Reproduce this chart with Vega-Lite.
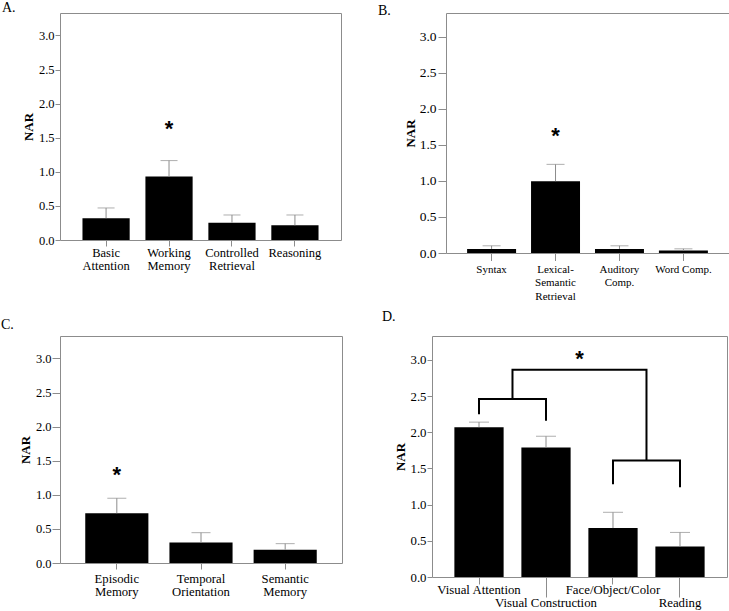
{
  "$schema": "https://vega.github.io/schema/vega-lite/v6.json",
  "padding": {"left": 0, "top": 0, "right": 0, "bottom": 0},
  "background": "white",
  "config": {
    "view": {"stroke": "#8c8c8c", "strokeWidth": 1},
    "axis": {"domain": false, "grid": false, "tickColor": "#8c8c8c", "labelColor": "black", "labelFont": "Liberation Serif", "titleFont": "Liberation Serif", "titleColor": "black", "labelOverlap": false, "labelFlush": false, "labelBound": false},
    "title": {"font": "Liberation Serif", "fontWeight": "normal", "fontSize": 14, "anchor": "start", "frame": "group", "baseline": "alphabetic", "color": "black"}
  },
  "spacing": 7,
  "vconcat": [
    {
      "spacing": 35,
      "hconcat": [
        {
          "width": 281, "height": 227,
          "title": {"text": "A.", "dx": -58, "offset": -2},
          "data": {"values": [
            {"c": "Basic Attention", "v": 0.32, "e": 0.47},
            {"c": "Working Memory", "v": 0.93, "e": 1.165},
            {"c": "Controlled Retrieval", "v": 0.254, "e": 0.367},
            {"c": "Reasoning", "v": 0.215, "e": 0.367}
          ]},
          "encoding": {"x": {"field": "c", "type": "nominal", "scale": {"domain": ["Basic Attention", "Working Memory", "Controlled Retrieval", "Reasoning"], "paddingInner": 0.25, "paddingOuter": 0.357},
            "axis": {"title": null, "labelAngle": 0, "labelExpr": "split(datum.value, ' ')", "labelFont": "Liberation Serif", "labelFontSize": 12.5, "labelLineHeight": 13.5, "tickSize": 6, "labelPadding": 0, "domain": false, "tickColor": "#8c8c8c", "labelColor": "black"}}},
          "layer": [
            {"mark": {"type": "bar", "color": "black"},
             "encoding": {"y": {"field": "v", "type": "quantitative", "scale": {"domain": [0, 3.33], "nice": false},
               "axis": {"title": "NAR", "values": [0, 0.5, 1, 1.5, 2, 2.5, 3], "format": ".1f", "labelFont": "Liberation Serif", "labelFontSize": 12.5, "labelColor": "black", "tickSize": 5, "tickColor": "#8c8c8c", "labelPadding": 1, "titleFont": "Liberation Serif", "titleFontSize": 13, "titleFontWeight": "bold", "titleColor": "black", "titlePadding": 3, "domain": false, "grid": false, "labelFlush": false}}}},
            {"mark": {"type": "rule", "color": "#8c8c8c", "strokeWidth": 1},
             "encoding": {"y": {"field": "v", "type": "quantitative", "scale": {"domain": [0, 3.33], "nice": false},
               "axis": {"title": "NAR", "values": [0, 0.5, 1, 1.5, 2, 2.5, 3], "format": ".1f", "labelFont": "Liberation Serif", "labelFontSize": 12.5, "labelColor": "black", "tickSize": 5, "tickColor": "#8c8c8c", "labelPadding": 1, "titleFont": "Liberation Serif", "titleFontSize": 13, "titleFontWeight": "bold", "titleColor": "black", "titlePadding": 3, "domain": false, "grid": false, "labelFlush": false}}, "y2": {"field": "e"}}},
            {"mark": {"type": "tick", "color": "#8c8c8c", "thickness": 1, "size": 17},
             "encoding": {"y": {"field": "e", "type": "quantitative", "scale": {"domain": [0, 3.33], "nice": false},
               "axis": {"title": "NAR", "values": [0, 0.5, 1, 1.5, 2, 2.5, 3], "format": ".1f", "labelFont": "Liberation Serif", "labelFontSize": 12.5, "labelColor": "black", "tickSize": 5, "tickColor": "#8c8c8c", "labelPadding": 1, "titleFont": "Liberation Serif", "titleFontSize": 13, "titleFontWeight": "bold", "titleColor": "black", "titlePadding": 3, "domain": false, "grid": false, "labelFlush": false}}}},
            {"data": {"values": [{"c": "Working Memory", "s": 1.69}]},
             "mark": {"type": "text", "text": "*", "font": "Liberation Sans", "fontWeight": "bold", "fontSize": 22, "baseline": "alphabetic", "dy": 11},
             "encoding": {"y": {"field": "s", "type": "quantitative", "scale": {"domain": [0, 3.33], "nice": false},
               "axis": {"title": "NAR", "values": [0, 0.5, 1, 1.5, 2, 2.5, 3], "format": ".1f", "labelFont": "Liberation Serif", "labelFontSize": 12.5, "labelColor": "black", "tickSize": 5, "tickColor": "#8c8c8c", "labelPadding": 1, "titleFont": "Liberation Serif", "titleFontSize": 13, "titleFontWeight": "bold", "titleColor": "black", "titlePadding": 3, "domain": false, "grid": false, "labelFlush": false}}}}
          ]
        },
        {
          "width": 283, "height": 240,
          "title": {"text": "B.", "dx": -68, "offset": -4.5},
          "data": {"values": [
            {"c": "Syntax", "v": 0.056, "e": 0.10},
            {"c": "Lexical-Semantic Retrieval", "v": 0.997, "e": 1.23},
            {"c": "Auditory Comp.", "v": 0.056, "e": 0.10},
            {"c": "Word Comp.", "v": 0.033, "e": 0.058}
          ]},
          "encoding": {"x": {"field": "c", "type": "nominal", "scale": {"domain": ["Syntax", "Lexical-Semantic Retrieval", "Auditory Comp.", "Word Comp."], "paddingInner": 0.234, "paddingOuter": 0.33},
            "axis": {"title": null, "labelAngle": 0, "labelExpr": "datum.value == 'Lexical-Semantic Retrieval' ? ['Lexical-', 'Semantic', 'Retrieval'] : datum.value == 'Auditory Comp.' ? ['Auditory', 'Comp.'] : datum.value", "labelFont": "Liberation Serif", "labelFontSize": 11, "labelLineHeight": 13.3, "tickSize": 7.5, "labelPadding": 3, "domain": false, "tickColor": "#8c8c8c", "labelColor": "black"}}},
          "layer": [
            {"mark": {"type": "bar", "color": "black"},
             "encoding": {"y": {"field": "v", "type": "quantitative", "scale": {"domain": [0, 3.33], "nice": false},
               "axis": {"title": "NAR", "values": [0, 0.5, 1, 1.5, 2, 2.5, 3], "format": ".1f", "labelFont": "Liberation Serif", "labelFontSize": 13.5, "labelColor": "black", "tickSize": 8, "tickColor": "#8c8c8c", "labelPadding": 2, "titleFont": "Liberation Serif", "titleFontSize": 13, "titleFontWeight": "bold", "titleColor": "black", "titlePadding": 2, "domain": false, "grid": false, "labelFlush": false}}}},
            {"mark": {"type": "rule", "color": "#8c8c8c", "strokeWidth": 1},
             "encoding": {"y": {"field": "v", "type": "quantitative", "scale": {"domain": [0, 3.33], "nice": false},
               "axis": {"title": "NAR", "values": [0, 0.5, 1, 1.5, 2, 2.5, 3], "format": ".1f", "labelFont": "Liberation Serif", "labelFontSize": 13.5, "labelColor": "black", "tickSize": 8, "tickColor": "#8c8c8c", "labelPadding": 2, "titleFont": "Liberation Serif", "titleFontSize": 13, "titleFontWeight": "bold", "titleColor": "black", "titlePadding": 2, "domain": false, "grid": false, "labelFlush": false}}, "y2": {"field": "e"}}},
            {"mark": {"type": "tick", "color": "#8c8c8c", "thickness": 1, "size": 18},
             "encoding": {"y": {"field": "e", "type": "quantitative", "scale": {"domain": [0, 3.33], "nice": false},
               "axis": {"title": "NAR", "values": [0, 0.5, 1, 1.5, 2, 2.5, 3], "format": ".1f", "labelFont": "Liberation Serif", "labelFontSize": 13.5, "labelColor": "black", "tickSize": 8, "tickColor": "#8c8c8c", "labelPadding": 2, "titleFont": "Liberation Serif", "titleFontSize": 13, "titleFontWeight": "bold", "titleColor": "black", "titlePadding": 2, "domain": false, "grid": false, "labelFlush": false}}}},
            {"data": {"values": [{"c": "Lexical-Semantic Retrieval", "s": 1.68}]},
             "mark": {"type": "text", "text": "*", "font": "Liberation Sans", "fontWeight": "bold", "fontSize": 22, "baseline": "alphabetic", "dy": 11},
             "encoding": {"y": {"field": "s", "type": "quantitative", "scale": {"domain": [0, 3.33], "nice": false},
               "axis": {"title": "NAR", "values": [0, 0.5, 1, 1.5, 2, 2.5, 3], "format": ".1f", "labelFont": "Liberation Serif", "labelFontSize": 13.5, "labelColor": "black", "tickSize": 8, "tickColor": "#8c8c8c", "labelPadding": 2, "titleFont": "Liberation Serif", "titleFontSize": 13, "titleFontWeight": "bold", "titleColor": "black", "titlePadding": 2, "domain": false, "grid": false, "labelFlush": false}}}}
          ]
        }
      ]
    },
    {
      "spacing": 38,
      "hconcat": [
        {
          "width": 282, "height": 227,
          "title": {"text": "C.", "dx": -59, "offset": 4},
          "data": {"values": [
            {"c": "Episodic Memory", "v": 0.73, "e": 0.95},
            {"c": "Temporal Orientation", "v": 0.30, "e": 0.445},
            {"c": "Semantic Memory", "v": 0.195, "e": 0.284}
          ]},
          "encoding": {"x": {"field": "c", "type": "nominal", "scale": {"domain": ["Episodic Memory", "Temporal Orientation", "Semantic Memory"], "paddingInner": 0.25, "paddingOuter": 0.30},
            "axis": {"title": null, "labelAngle": 0, "labelExpr": "split(datum.value, ' ')", "labelFont": "Liberation Serif", "labelFontSize": 12.7, "labelLineHeight": 13, "tickSize": 6, "labelPadding": 3, "domain": false, "tickColor": "#8c8c8c", "labelColor": "black"}}},
          "layer": [
            {"mark": {"type": "bar", "color": "black"},
             "encoding": {"y": {"field": "v", "type": "quantitative", "scale": {"domain": [0, 3.33], "nice": false},
               "axis": {"title": "NAR", "values": [0, 0.5, 1, 1.5, 2, 2.5, 3], "format": ".1f", "labelFont": "Liberation Serif", "labelFontSize": 12.5, "labelColor": "black", "tickSize": 8, "tickColor": "#8c8c8c", "labelPadding": 1, "titleFont": "Liberation Serif", "titleFontSize": 13, "titleFontWeight": "bold", "titleColor": "black", "titlePadding": 3, "domain": false, "grid": false, "labelFlush": false}}}},
            {"mark": {"type": "rule", "color": "#8c8c8c", "strokeWidth": 1},
             "encoding": {"y": {"field": "v", "type": "quantitative", "scale": {"domain": [0, 3.33], "nice": false},
               "axis": {"title": "NAR", "values": [0, 0.5, 1, 1.5, 2, 2.5, 3], "format": ".1f", "labelFont": "Liberation Serif", "labelFontSize": 12.5, "labelColor": "black", "tickSize": 8, "tickColor": "#8c8c8c", "labelPadding": 1, "titleFont": "Liberation Serif", "titleFontSize": 13, "titleFontWeight": "bold", "titleColor": "black", "titlePadding": 3, "domain": false, "grid": false, "labelFlush": false}}, "y2": {"field": "e"}}},
            {"mark": {"type": "tick", "color": "#8c8c8c", "thickness": 1, "size": 19},
             "encoding": {"y": {"field": "e", "type": "quantitative", "scale": {"domain": [0, 3.33], "nice": false},
               "axis": {"title": "NAR", "values": [0, 0.5, 1, 1.5, 2, 2.5, 3], "format": ".1f", "labelFont": "Liberation Serif", "labelFontSize": 12.5, "labelColor": "black", "tickSize": 8, "tickColor": "#8c8c8c", "labelPadding": 1, "titleFont": "Liberation Serif", "titleFontSize": 13, "titleFontWeight": "bold", "titleColor": "black", "titlePadding": 3, "domain": false, "grid": false, "labelFlush": false}}}},
            {"data": {"values": [{"c": "Episodic Memory", "s": 1.35}]},
             "mark": {"type": "text", "text": "*", "font": "Liberation Sans", "fontWeight": "bold", "fontSize": 22, "baseline": "alphabetic", "dy": 11},
             "encoding": {"y": {"field": "s", "type": "quantitative", "scale": {"domain": [0, 3.33], "nice": false},
               "axis": {"title": "NAR", "values": [0, 0.5, 1, 1.5, 2, 2.5, 3], "format": ".1f", "labelFont": "Liberation Serif", "labelFontSize": 12.5, "labelColor": "black", "tickSize": 8, "tickColor": "#8c8c8c", "labelPadding": 1, "titleFont": "Liberation Serif", "titleFontSize": 13, "titleFontWeight": "bold", "titleColor": "black", "titlePadding": 3, "domain": false, "grid": false, "labelFlush": false}}}}
          ]
        },
        {
          "width": 295, "height": 241,
          "title": {"text": "D.", "dx": -50, "offset": 12.5},
          "data": {"values": [
            {"c": "Visual Attention", "v": 2.07, "e": 2.14},
            {"c": "Visual Construction", "v": 1.79, "e": 1.945},
            {"c": "Face/Object/Color", "v": 0.676, "e": 0.894},
            {"c": "Reading", "v": 0.42, "e": 0.616}
          ]},
          "encoding": {"x": {"field": "c", "type": "nominal", "scale": {"domain": ["Visual Attention", "Visual Construction", "Face/Object/Color", "Reading"], "paddingInner": 0.265, "paddingOuter": 0.334},
            "axis": {"title": null, "labelAngle": 0, "labelFont": "Liberation Serif", "labelFontSize": 12.8, "tickSize": {"condition": {"test": "datum.value == 'Visual Construction' || datum.value == 'Reading'", "value": 20}, "value": 7}, "labelPadding": -1, "domain": false, "tickColor": "#8c8c8c", "labelColor": "black"}}},
          "layer": [
            {"mark": {"type": "bar", "color": "black"},
             "encoding": {"y": {"field": "v", "type": "quantitative", "scale": {"domain": [0, 3.33], "nice": false},
               "axis": {"title": "NAR", "values": [0, 0.5, 1, 1.5, 2, 2.5, 3], "format": ".1f", "labelFont": "Liberation Serif", "labelFontSize": 12.8, "labelColor": "black", "tickSize": 5, "tickColor": "#8c8c8c", "labelPadding": 1, "titleFont": "Liberation Serif", "titleFontSize": 13, "titleFontWeight": "bold", "titleColor": "black", "titlePadding": 3, "domain": false, "grid": false, "labelFlush": false}}}},
            {"mark": {"type": "rule", "color": "#8c8c8c", "strokeWidth": 1},
             "encoding": {"y": {"field": "v", "type": "quantitative", "scale": {"domain": [0, 3.33], "nice": false},
               "axis": {"title": "NAR", "values": [0, 0.5, 1, 1.5, 2, 2.5, 3], "format": ".1f", "labelFont": "Liberation Serif", "labelFontSize": 12.8, "labelColor": "black", "tickSize": 5, "tickColor": "#8c8c8c", "labelPadding": 1, "titleFont": "Liberation Serif", "titleFontSize": 13, "titleFontWeight": "bold", "titleColor": "black", "titlePadding": 3, "domain": false, "grid": false, "labelFlush": false}}, "y2": {"field": "e"}}},
            {"mark": {"type": "tick", "color": "#8c8c8c", "thickness": 1, "size": 20},
             "encoding": {"y": {"field": "e", "type": "quantitative", "scale": {"domain": [0, 3.33], "nice": false},
               "axis": {"title": "NAR", "values": [0, 0.5, 1, 1.5, 2, 2.5, 3], "format": ".1f", "labelFont": "Liberation Serif", "labelFontSize": 12.8, "labelColor": "black", "tickSize": 5, "tickColor": "#8c8c8c", "labelPadding": 1, "titleFont": "Liberation Serif", "titleFontSize": 13, "titleFontWeight": "bold", "titleColor": "black", "titlePadding": 3, "domain": false, "grid": false, "labelFlush": false}}}},
            {"data": {"values": [
              {"g": "a", "o": 0, "c": "Visual Attention", "y": 2.25},
              {"g": "a", "o": 1, "c": "Visual Attention", "y": 2.46},
              {"g": "a", "o": 2, "c": "Visual Construction", "y": 2.46},
              {"g": "a", "o": 3, "c": "Visual Construction", "y": 2.16},
              {"g": "b", "o": 0, "c": "Face/Object/Color", "y": 1.28},
              {"g": "b", "o": 1, "c": "Face/Object/Color", "y": 1.61},
              {"g": "b", "o": 2, "c": "Reading", "y": 1.61},
              {"g": "b", "o": 3, "c": "Reading", "y": 1.24}
            ]},
             "mark": {"type": "line", "color": "black", "strokeWidth": 2, "strokeJoin": "miter"},
             "encoding": {
               "x": {"field": "c", "type": "nominal", "bandPosition": 0.5, "scale": {"domain": ["Visual Attention", "Visual Construction", "Face/Object/Color", "Reading"], "paddingInner": 0.265, "paddingOuter": 0.334},
                 "axis": {"title": null, "labelAngle": 0, "labelFont": "Liberation Serif", "labelFontSize": 12.8, "tickSize": {"condition": {"test": "datum.value == 'Visual Construction' || datum.value == 'Reading'", "value": 20}, "value": 7}, "labelPadding": -1, "domain": false, "tickColor": "#8c8c8c", "labelColor": "black"}},
               "y": {"field": "y", "type": "quantitative", "scale": {"domain": [0, 3.33], "nice": false},
                 "axis": {"title": "NAR", "values": [0, 0.5, 1, 1.5, 2, 2.5, 3], "format": ".1f", "labelFont": "Liberation Serif", "labelFontSize": 12.8, "labelColor": "black", "tickSize": 5, "tickColor": "#8c8c8c", "labelPadding": 1, "titleFont": "Liberation Serif", "titleFontSize": 13, "titleFontWeight": "bold", "titleColor": "black", "titlePadding": 3, "domain": false, "grid": false, "labelFlush": false}},
               "detail": {"field": "g"},
               "order": {"field": "o", "type": "quantitative"}}},
            {"data": {"values": [
              {"g": "c", "o": 0, "c": "Visual Attention", "y": 2.46},
              {"g": "c", "o": 1, "c": "Visual Attention", "y": 2.865},
              {"g": "c", "o": 2, "c": "Face/Object/Color", "y": 2.865},
              {"g": "c", "o": 3, "c": "Face/Object/Color", "y": 1.61}
            ]},
             "mark": {"type": "line", "color": "black", "strokeWidth": 2, "strokeJoin": "miter"},
             "encoding": {
               "x": {"field": "c", "type": "nominal", "bandPosition": 1.18, "scale": {"domain": ["Visual Attention", "Visual Construction", "Face/Object/Color", "Reading"], "paddingInner": 0.265, "paddingOuter": 0.334},
                 "axis": {"title": null, "labelAngle": 0, "labelFont": "Liberation Serif", "labelFontSize": 12.8, "tickSize": {"condition": {"test": "datum.value == 'Visual Construction' || datum.value == 'Reading'", "value": 20}, "value": 7}, "labelPadding": -1, "domain": false, "tickColor": "#8c8c8c", "labelColor": "black"}},
               "y": {"field": "y", "type": "quantitative", "scale": {"domain": [0, 3.33], "nice": false},
                 "axis": {"title": "NAR", "values": [0, 0.5, 1, 1.5, 2, 2.5, 3], "format": ".1f", "labelFont": "Liberation Serif", "labelFontSize": 12.8, "labelColor": "black", "tickSize": 5, "tickColor": "#8c8c8c", "labelPadding": 1, "titleFont": "Liberation Serif", "titleFontSize": 13, "titleFontWeight": "bold", "titleColor": "black", "titlePadding": 3, "domain": false, "grid": false, "labelFlush": false}},
               "detail": {"field": "g"},
               "order": {"field": "o", "type": "quantitative"}}},
            {"data": {"values": [{"c": "Visual Construction", "s": 3.07}]},
             "mark": {"type": "text", "text": "*", "font": "Liberation Sans", "fontWeight": "bold", "fontSize": 22, "baseline": "alphabetic", "dy": 11},
             "encoding": {
               "x": {"field": "c", "type": "nominal", "bandPosition": 1.18, "scale": {"domain": ["Visual Attention", "Visual Construction", "Face/Object/Color", "Reading"], "paddingInner": 0.265, "paddingOuter": 0.334},
                 "axis": {"title": null, "labelAngle": 0, "labelFont": "Liberation Serif", "labelFontSize": 12.8, "tickSize": {"condition": {"test": "datum.value == 'Visual Construction' || datum.value == 'Reading'", "value": 20}, "value": 7}, "labelPadding": -1, "domain": false, "tickColor": "#8c8c8c", "labelColor": "black"}},
               "y": {"field": "s", "type": "quantitative", "scale": {"domain": [0, 3.33], "nice": false},
                 "axis": {"title": "NAR", "values": [0, 0.5, 1, 1.5, 2, 2.5, 3], "format": ".1f", "labelFont": "Liberation Serif", "labelFontSize": 12.8, "labelColor": "black", "tickSize": 5, "tickColor": "#8c8c8c", "labelPadding": 1, "titleFont": "Liberation Serif", "titleFontSize": 13, "titleFontWeight": "bold", "titleColor": "black", "titlePadding": 3, "domain": false, "grid": false, "labelFlush": false}}}}
          ]
        }
      ]
    }
  ]
}
